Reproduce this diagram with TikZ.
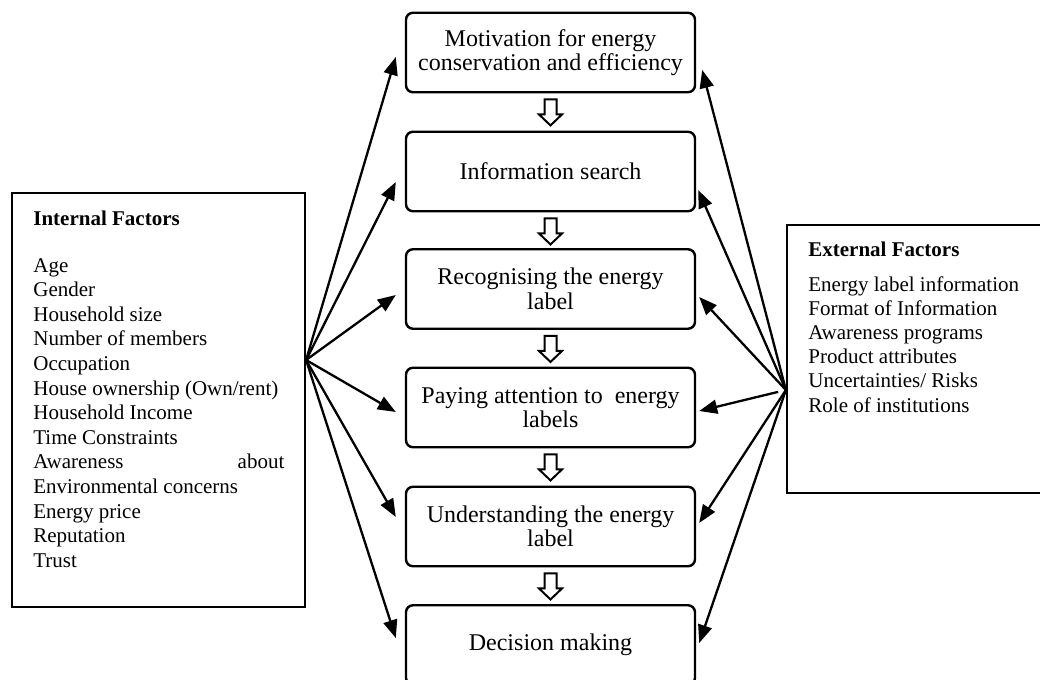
\documentclass[tikz,border=0pt]{standalone}
\usepackage{fontspec}
\setmainfont{Liberation Serif}
\usetikzlibrary{arrows.meta,calc}
\begin{document}
\begin{tikzpicture}[x=0.5pt,y=-0.5pt,
  stage/.style={draw, line width=1.2pt, rounded corners=3.5pt, minimum width=144.5pt, minimum height=39.75pt, inner sep=0pt, align=center, font=\fontsize{12pt}{12.25pt}\selectfont},
  factorbox/.style={draw, line width=1.1pt, inner sep=0pt},
  item/.style={anchor=base west, inner sep=0pt, font=\fontsize{10.5pt}{12.3pt}\selectfont},
  head/.style={anchor=base west, inner sep=0pt, font=\fontsize{10.5pt}{12.3pt}\selectfont\bfseries},
  link/.style={line width=1.15pt, -{Triangle[length=9pt,width=7pt]}},
  hollow/.style={draw, line width=1pt, fill=white, line join=miter}]

\useasboundingbox (0,0) rectangle (1040,680);

% stages
\node[stage] (b1) at (550.5,52.5) {Motivation for energy\\conservation and efficiency};
\node[stage] (b2) at (550.5,171.5) {Information search};
\node[stage] (b3) at (550.5,289) {Recognising the energy\\label};
\node[stage] (b4) at (550.5,407.5) {Paying attention to\ \ energy\\labels};
\node[stage] (b5) at (550.5,526.5) {Understanding the energy\\label};
\node[stage] (b6) at (550.5,645) {Decision making};

% hollow arrows between stages
\foreach \a in {b1,b2,b3,b4,b5}{
  \draw[hollow] ($(\a.south)+(-6,6)$) -- ++(12,0) -- ++(0,15) -- ++(5.5,0)
     -- ++(-11.5,11) -- ++(-11.5,-11) -- ++(5.5,0) -- cycle;
}

% factor boxes
\node[factorbox, minimum width=146.5pt, minimum height=207pt] (lbox) at (158.5,400) {};
\node[factorbox, minimum width=129pt, minimum height=134pt] (rbox) at (916,359) {};

% internal factors text
\node[head] (lhead) at (33,225) {Internal Factors};
\foreach \t [count=\i] in {Age,Gender,Household size,Number of members,Occupation,House ownership (Own/rent),Household Income,Time Constraints,{\hbox to 125.5pt{Awareness\hfill about}},Environmental concerns,Energy price,Reputation,Trust}{
  \node[item] (ln\i) at (33,{272+24.6*(\i-1)}) {\t};
}

% external factors text
\node[head] (rhead) at (808,256) {External Factors};
\foreach \t [count=\i] in {Energy label information,Format of Information,Awareness programs,Product attributes,Uncertainties/ Risks,Role of institutions}{
  \node[item] (rn\i) at (808,{291+24.2*(\i-1)}) {\t};
}

% connectors
\coordinate (L) at ($(lbox.east)+(0,-40)$);
\coordinate (R) at ($(rbox.west)+(0,31)$);
\foreach \b/\dy in {b1/4.5,b2/10.5,b3/6,b4/4.5,b5/-9.5,b6/-7}{
  \draw[link] (L) -- ($(\b.west)+(-9,\dy)$);
}
\foreach \b/\dx/\dy in {b1/6/17.5,b2/2/18.5,b3/3/8,b5/3/-3.5,b6/3/-2}{
  \draw[link] (R) -- ($(\b.east)+(\dx,\dy)$);
}
\draw[link, shorten <=4pt] (R) -- ($(b4.east)+(3,3.5)$);

\end{tikzpicture}
\end{document}
